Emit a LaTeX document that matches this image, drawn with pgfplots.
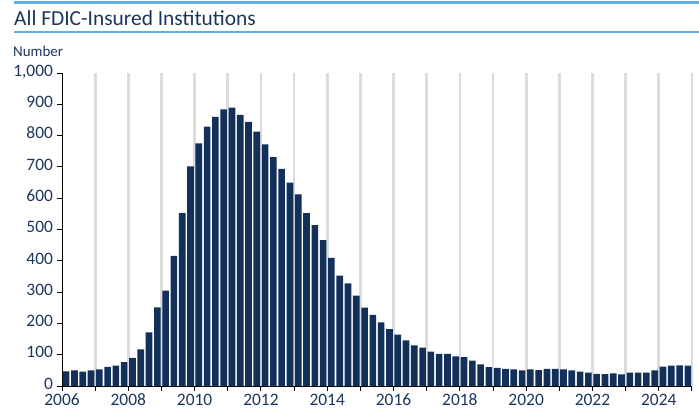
\documentclass[border=0pt]{standalone}
\usepackage{fontspec}
\setmainfont{Carlito}
\usepackage{pgfplots}
\usepackage{pgfplotstable}
\pgfplotsset{compat=1.18}
\definecolor{navy}{HTML}{12305A}
\definecolor{txt}{HTML}{1B365D}
\definecolor{lblue}{HTML}{5DB3E6}
\definecolor{gridg}{HTML}{DCDCDC}
\pgfplotstableread{
x n
2006.125 47
2006.375 50
2006.625 46
2006.875 50
2007.125 53
2007.375 61
2007.625 65
2007.875 76
2008.125 90
2008.375 117
2008.625 171
2008.875 251
2009.125 305
2009.375 416
2009.625 552
2009.875 702
2010.125 775
2010.375 829
2010.625 860
2010.875 884
2011.125 889
2011.375 866
2011.625 844
2011.875 813
2012.125 772
2012.375 731
2012.625 694
2012.875 650
2013.125 612
2013.375 552
2013.625 514
2013.875 466
2014.125 409
2014.375 353
2014.625 328
2014.875 289
2015.125 250
2015.375 227
2015.625 203
2015.875 182
2016.125 164
2016.375 146
2016.625 130
2016.875 123
2017.125 110
2017.375 103
2017.625 103
2017.875 95
2018.125 92
2018.375 81
2018.625 69
2018.875 60
2019.125 58
2019.375 55
2019.625 53
2019.875 50
2020.125 53
2020.375 51
2020.625 55
2020.875 55
2021.125 53
2021.375 50
2021.625 46
2021.875 43
2022.125 39
2022.375 38
2022.625 40
2022.875 37
2023.125 43
2023.375 43
2023.625 43
2023.875 50
2024.125 62
2024.375 65
2024.625 66
2024.875 65
}\datatable
\begin{document}
\begin{tikzpicture}
\useasboundingbox (0bp,0bp) rectangle (699bp,414bp);
\draw[lblue, line width=3bp] (14bp,411.5bp) -- (699bp,411.5bp);
\draw[lblue, line width=2bp] (14bp,381.5bp) -- (699bp,381.5bp);
\node[anchor=base west, inner sep=0pt, text=txt, font=\fontsize{21.5}{25}\selectfont] at (14bp,388bp) {All FDIC-Insured Institutions};
\node[anchor=base west, inner sep=0pt, text=txt, font=\fontsize{15}{18}\selectfont] at (13bp,357bp) {Number};
\begin{axis}[
  at={(62bp,28bp)}, anchor=south west,
  scale only axis, width=630bp, height=313bp,
  xmin=2006, xmax=2025, ymin=0, ymax=1000,
  axis x line*=bottom, axis y line*=left,
  axis line style={black, line width=0.9bp},
  tick style={black, line width=0.9bp},
  tick align=outside,
  major tick length=5bp,
  ytick={0,100,...,1000},
  yticklabel style={text=txt, font=\fontsize{17.5}{20}\selectfont, xshift=-0.5bp, inner ysep=0pt, text height=1.35ex, text depth=0pt},
  /pgf/number format/1000 sep={,},
  /pgf/number format/assume math mode=true,
  xtick={2006,...,2025},
  xticklabels={2006,,2008,,2010,,2012,,2014,,2016,,2018,,2020,,2022,,2024,},
  xticklabel style={text=txt, font=\fontsize{17.5}{20}\selectfont, inner sep=0pt, text height=1.35ex, text depth=0pt, yshift=-7.5bp},
  extra x ticks={2007,...,2025},
  extra x tick labels={},
  extra x tick style={grid=major, major tick length=0pt},
  major grid style={gridg, line width=2.7bp},
]
\addplot[ybar, bar width=0.2, bar shift=0pt, fill=navy, draw=none] table[x=x, y=n] {\datatable};
\end{axis}
\end{tikzpicture}
\end{document}
